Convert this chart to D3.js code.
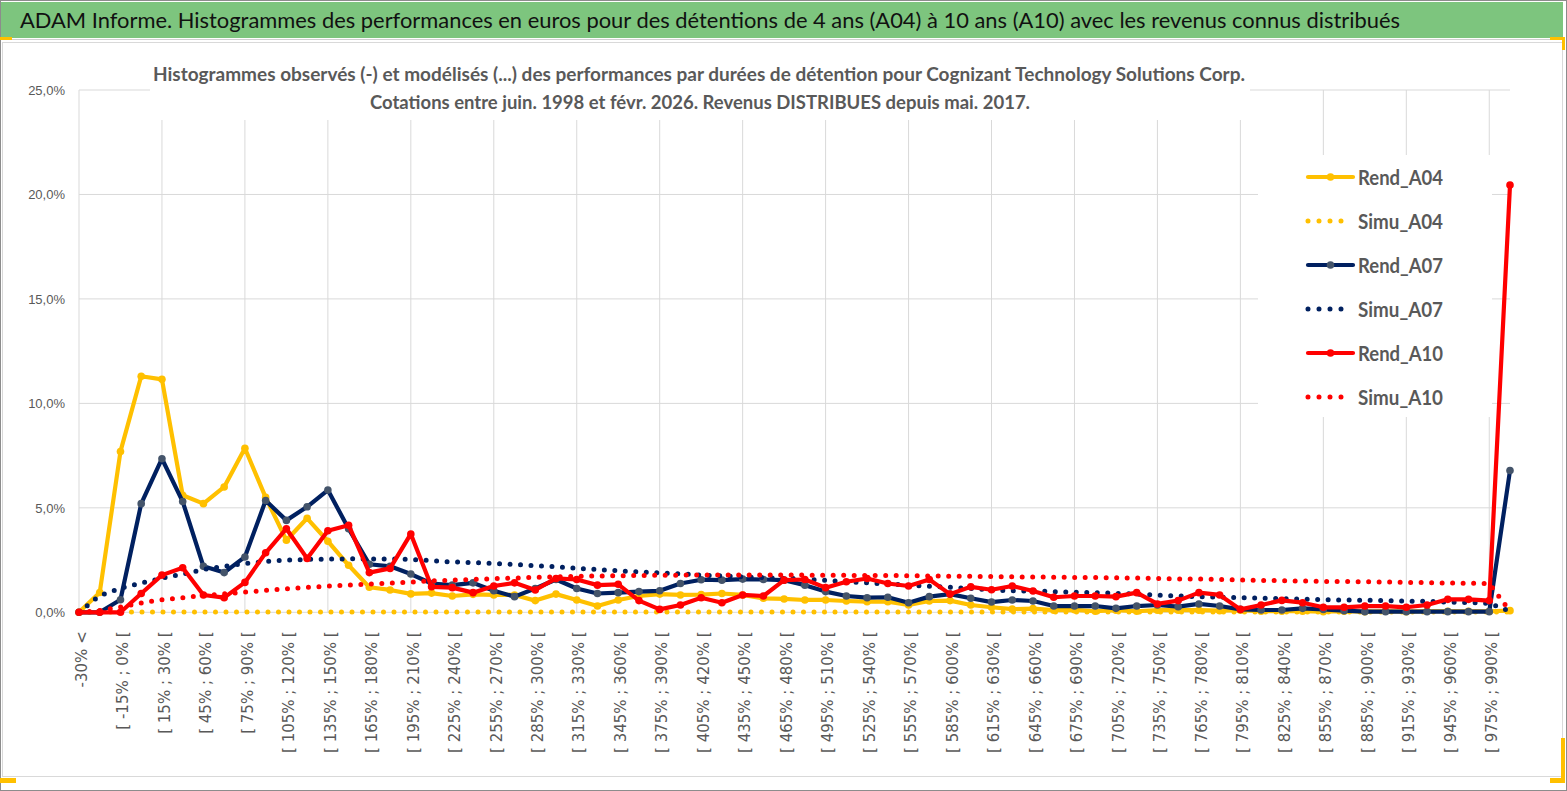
<!DOCTYPE html>
<html lang="fr">
<head>
  <meta charset="UTF-8">
  <title>ADAM Informe - Cognizant Technology Solutions Corp.</title>
  <style>
    body { margin: 0; background: #fff; }
    svg { display: block; }
  </style>
</head>
<body>
  <svg id="mainsvg" width="1567" height="791"></svg>
  <script src="https://cdn.jsdelivr.net/npm/d3@7"></script>
  <script>
    // categories (classes de performance)
    const categories = [
      '-30% <', '[ -30% ; -15% [', '[ -15% ; 0% [', '[ 0% ; 15% [', '[ 15% ; 30% [', '[ 30% ; 45% [',
      '[ 45% ; 60% [', '[ 60% ; 75% [', '[ 75% ; 90% [', '[ 90% ; 105% [', '[ 105% ; 120% [', '[ 120% ; 135% [',
      '[ 135% ; 150% [', '[ 150% ; 165% [', '[ 165% ; 180% [', '[ 180% ; 195% [', '[ 195% ; 210% [', '[ 210% ; 225% [',
      '[ 225% ; 240% [', '[ 240% ; 255% [', '[ 255% ; 270% [', '[ 270% ; 285% [', '[ 285% ; 300% [', '[ 300% ; 315% [',
      '[ 315% ; 330% [', '[ 330% ; 345% [', '[ 345% ; 360% [', '[ 360% ; 375% [', '[ 375% ; 390% [', '[ 390% ; 405% [',
      '[ 405% ; 420% [', '[ 420% ; 435% [', '[ 435% ; 450% [', '[ 450% ; 465% [', '[ 465% ; 480% [', '[ 480% ; 495% [',
      '[ 495% ; 510% [', '[ 510% ; 525% [', '[ 525% ; 540% [', '[ 540% ; 555% [', '[ 555% ; 570% [', '[ 570% ; 585% [',
      '[ 585% ; 600% [', '[ 600% ; 615% [', '[ 615% ; 630% [', '[ 630% ; 645% [', '[ 645% ; 660% [', '[ 660% ; 675% [',
      '[ 675% ; 690% [', '[ 690% ; 705% [', '[ 705% ; 720% [', '[ 720% ; 735% [', '[ 735% ; 750% [', '[ 750% ; 765% [',
      '[ 765% ; 780% [', '[ 780% ; 795% [', '[ 795% ; 810% [', '[ 810% ; 825% [', '[ 825% ; 840% [', '[ 840% ; 855% [',
      '[ 855% ; 870% [', '[ 870% ; 885% [', '[ 885% ; 900% [', '[ 900% ; 915% [', '[ 915% ; 930% [', '[ 930% ; 945% [',
      '[ 945% ; 960% [', '[ 960% ; 975% [', '[ 975% ; 990% [', '> 990%'
    ]

    // valeurs en %
    const rendA04 = [
      0, 0.95, 7.7, 11.3, 11.15, 5.6, 5.2, 6.0, 7.85, 5.5,
      3.45, 4.5, 3.4, 2.25, 1.2, 1.07, 0.88, 0.92, 0.78, 0.86,
      0.83, 0.83, 0.56, 0.87, 0.59, 0.3, 0.59, 0.78, 0.87, 0.83,
      0.85, 0.9, 0.83, 0.67, 0.64, 0.59, 0.59, 0.54, 0.51, 0.51,
      0.35, 0.54, 0.56, 0.35, 0.24, 0.15, 0.18, 0.1, 0.12, 0.05,
      0.1, 0.05, 0.1, 0.1, 0.1, 0.08, 0.1, 0.05, 0.05, 0.05,
      0.03, 0.05, 0.03, 0.05, 0.03, 0.05, 0.05, 0.05, 0.05, 0.08
    ]
    const simuA04 = [
      0, 0.01, 0.02, 0.02, 0.02, 0.02, 0.02, 0.02, 0.02, 0.02,
      0.02, 0.02, 0.02, 0.02, 0.02, 0.02, 0.02, 0.02, 0.02, 0.02,
      0.02, 0.02, 0.02, 0.02, 0.02, 0.02, 0.02, 0.02, 0.02, 0.02,
      0.02, 0.02, 0.02, 0.02, 0.02, 0.02, 0.02, 0.02, 0.02, 0.02,
      0.02, 0.02, 0.02, 0.02, 0.02, 0.02, 0.02, 0.02, 0.02, 0.02,
      0.02, 0.02, 0.02, 0.02, 0.02, 0.02, 0.02, 0.02, 0.02, 0.02,
      0.02, 0.02, 0.02, 0.02, 0.02, 0.02, 0.02, 0.02, 0.02, 0.02
    ]
    const rendA07 = [
      0, 0, 0.6, 5.2, 7.35, 5.3, 2.2, 1.9, 2.65, 5.35,
      4.4, 5.05, 5.85, 4.0, 2.3, 2.2, 1.83, 1.38, 1.3, 1.41,
      1.03, 0.75, 1.14, 1.57, 1.14, 0.9, 0.94, 0.99, 1.03, 1.38,
      1.56, 1.54, 1.59, 1.57, 1.54, 1.3, 0.99, 0.78, 0.7, 0.72,
      0.46, 0.75, 0.87, 0.67, 0.49, 0.59, 0.54, 0.3, 0.3, 0.3,
      0.19, 0.3, 0.35, 0.27, 0.4, 0.3, 0.14, 0.11, 0.11, 0.19,
      0.14, 0.08, 0.03, 0.03, 0.03, 0.03, 0.03, 0.03, 0.03, 6.79
    ]
    const simuA07 = [
      0, 0.8, 1.15, 1.4, 1.63, 1.83, 2.05, 2.2, 2.33, 2.43,
      2.5, 2.53, 2.55, 2.56, 2.55, 2.55, 2.53, 2.47, 2.41, 2.38,
      2.34, 2.29, 2.23, 2.18, 2.1, 2.05, 1.99, 1.93, 1.89, 1.84,
      1.78, 1.74, 1.7, 1.66, 1.63, 1.59, 1.53, 1.47, 1.41, 1.35,
      1.3, 1.25, 1.2, 1.14, 1.07, 1.03, 1.02, 0.99, 0.96, 0.94,
      0.91, 0.87, 0.82, 0.78, 0.75, 0.72, 0.7, 0.68, 0.65, 0.63,
      0.6, 0.59, 0.58, 0.56, 0.54, 0.52, 0.49, 0.47, 0.43, 0.05
    ]
    const rendA10 = [
      0, 0, 0, 0.9, 1.78, 2.13, 0.83, 0.7, 1.43, 2.85,
      4.0, 2.58, 3.9, 4.17, 1.9, 2.1, 3.75, 1.22, 1.18, 0.94,
      1.26, 1.41, 1.07, 1.62, 1.57, 1.3, 1.34, 0.56, 0.14, 0.35,
      0.7, 0.46, 0.83, 0.78, 1.54, 1.57, 1.18, 1.46, 1.62, 1.38,
      1.26, 1.57, 0.87, 1.22, 1.08, 1.26, 1.02, 0.72, 0.78, 0.78,
      0.75, 0.94, 0.4, 0.56, 0.94, 0.83, 0.14, 0.35, 0.57, 0.46,
      0.24, 0.24, 0.3, 0.3, 0.24, 0.35, 0.62, 0.62, 0.56, 20.45
    ]
    const simuA10 = [
      0, 0.08, 0.25, 0.45, 0.6, 0.7, 0.8, 0.88, 0.97, 1.05,
      1.13, 1.19, 1.25, 1.3, 1.35, 1.4, 1.45, 1.5, 1.54, 1.57,
      1.61, 1.64, 1.67, 1.7, 1.72, 1.74, 1.75, 1.76, 1.77, 1.78,
      1.78, 1.78, 1.78, 1.78, 1.78, 1.78, 1.77, 1.77, 1.76, 1.76,
      1.75, 1.74, 1.73, 1.72, 1.71, 1.7, 1.69, 1.68, 1.67, 1.66,
      1.65, 1.64, 1.62, 1.6, 1.59, 1.57, 1.55, 1.53, 1.51, 1.5,
      1.48, 1.47, 1.46, 1.45, 1.43, 1.42, 1.4, 1.39, 1.38, 0.05
    ]
    const yTicks = [0, 5, 10, 15, 20, 25]

    const title = 'ADAM Informe. Histogrammes des performances en euros pour des détentions de 4 ans (A04) à 10 ans (A10) avec les revenus connus distribués'
    const subtitle1 = 'Histogrammes observés (-)  et modélisés (...) des performances par durées de détention pour Cognizant Technology Solutions Corp.'
    const subtitle2 = 'Cotations entre juin. 1998 et févr. 2026. Revenus DISTRIBUES depuis mai. 2017.'

    const series = [
      { name: 'Rend_A04', values: rendA04, color: '#FFC000', marker: '#FFC000', dotted: false },
      { name: 'Simu_A04', values: simuA04, color: '#FFC000', dotted: true },
      { name: 'Rend_A07', values: rendA07, color: '#002060', marker: '#44546A', dotted: false },
      { name: 'Simu_A07', values: simuA07, color: '#002060', dotted: true },
      { name: 'Rend_A10', values: rendA10, color: '#FF0000', marker: '#FF0000', dotted: false },
      { name: 'Simu_A10', values: simuA10, color: '#FF0000', dotted: true }
    ]

    const svg = d3.select('#mainsvg')
    const width = +svg.attr('width')
    const height = +svg.attr('height')
    const calib = 'Lato, "Liberation Sans", sans-serif' // proche de Calibri

    // cadre et bandeau
    svg.append('rect').attr('x', 0.5).attr('y', 0.5).attr('width', width - 1).attr('height', height - 1)
      .attr('fill', '#fff').attr('stroke', '#8c8c8c')
    svg.append('rect').attr('x', 2.5).attr('y', 42.5).attr('width', 1560).attr('height', 734)
      .attr('fill', '#fff').attr('stroke', '#d9d9d9')
    svg.append('rect').attr('x', 1).attr('y', 2).attr('width', 1562).attr('height', 36).attr('fill', '#7dc57e')
    svg.append('line').attr('x1', 1).attr('x2', 1563).attr('y1', 39.5).attr('y2', 39.5).attr('stroke', '#d0d0d0')
    // petites marques jaunes dans les coins
    const corners = [[0, 37, 12, 3], [1550, 37, 15, 3], [1562, 37, 3, 13], [0, 778, 16, 5], [1561, 738, 4, 45], [1550, 778, 15, 5]]
    corners.forEach(c => {
      svg.append('rect').attr('x', c[0]).attr('y', c[1]).attr('width', c[2]).attr('height', c[3]).attr('fill', '#FFC000')
    })

    svg.append('text').text(title)
      .attr('x', 20).attr('y', 28)
      .attr('font-family', calib).attr('font-size', 22).attr('fill', '#111')
      .attr('textLength', 1380).attr('lengthAdjust', 'spacingAndGlyphs')

    // échelles
    const xScale = d3.scalePoint().domain(categories).range([79, 1510])
    const yScale = d3.scaleLinear().domain([0, 25]).range([612.3, 90])
    const locale = d3.formatLocale({ decimal: ',', thousands: ' ', grouping: [3], currency: ['', ' €'] })
    const fmt = v => locale.format('.1f')(v) + '%'

    const g = svg.append('g').attr('id', 'maingroup')

    // grille
    g.append('g').selectAll('line').data(yTicks).join('line')
      .attr('x1', 79).attr('x2', 1510)
      .attr('y1', d => yScale(d)).attr('y2', d => yScale(d))
      .attr('stroke', '#d9d9d9').attr('stroke-width', 1)
    g.append('g').selectAll('line').data(categories.filter((d, i) => i % 4 === 0)).join('line')
      .attr('x1', d => xScale(d)).attr('x2', d => xScale(d))
      .attr('y1', yScale(25)).attr('y2', yScale(0))
      .attr('stroke', '#d9d9d9').attr('stroke-width', 1)

    // axe Y
    const yAxis = d3.axisLeft(yScale).tickValues(yTicks).tickFormat(fmt).tickSize(0).tickPadding(14)
    const yg = g.append('g').attr('transform', 'translate(79,0)').call(yAxis)
    yg.select('.domain').remove()
    yg.selectAll('text').attr('font-family', '"Liberation Sans", Arial, sans-serif').attr('font-size', 13).attr('fill', '#595959')

    // axe X
    const xAxis = d3.axisBottom(xScale).tickValues(categories.filter((d, i) => i % 2 === 0)).tickSize(0).tickPadding(0)
    const xg = g.append('g').attr('transform', `translate(0,${yScale(0)})`).call(xAxis)
    xg.select('.domain').remove()
    xg.selectAll('text')
      .attr('font-family', '"DejaVu Sans", sans-serif').attr('font-size', 15).attr('fill', '#595959')
      .attr('text-anchor', 'end')
      .attr('transform', 'translate(2,19) rotate(-90)')
      .attr('x', 0).attr('y', 0).attr('dy', '0.35em')

    // courbes
    const line = d3.line().x((d, i) => xScale(categories[i])).y(d => yScale(d))
    series.forEach(s => {
      const p = g.append('path').datum(s.values)
        .attr('d', line).attr('fill', 'none').attr('stroke', s.color)
        .attr('stroke-linejoin', 'round')
      if (s.dotted) {
        p.attr('stroke-width', 5).attr('stroke-dasharray', '0 10.5').attr('stroke-linecap', 'round')
      } else {
        p.attr('stroke-width', 4.2).attr('stroke-linecap', 'round')
        g.append('g').selectAll('circle').data(s.values).join('circle')
          .attr('cx', (d, i) => xScale(categories[i])).attr('cy', d => yScale(d))
          .attr('r', 3.8).attr('fill', s.marker)
      }
    })

    // titre du graphique
    svg.append('rect').attr('x', 150).attr('y', 60).attr('width', 1100).attr('height', 60).attr('fill', '#fff')
    svg.append('text').text(subtitle1)
      .attr('x', 699).attr('y', 81).attr('text-anchor', 'middle')
      .attr('font-family', calib).attr('font-weight', 'bold').attr('font-size', 18).attr('fill', '#595959')
      .attr('textLength', 1092).attr('lengthAdjust', 'spacingAndGlyphs')
    svg.append('text').text(subtitle2)
      .attr('x', 700).attr('y', 109).attr('text-anchor', 'middle')
      .attr('font-family', calib).attr('font-weight', 'bold').attr('font-size', 18).attr('fill', '#595959')
      .attr('textLength', 660).attr('lengthAdjust', 'spacingAndGlyphs')

    // légende
    const legend = svg.append('g')
    legend.append('rect').attr('x', 1258).attr('y', 155).attr('width', 234).attr('height', 262).attr('fill', '#fff')
    series.forEach((s, i) => {
      const ly = 177 + i * 44
      const item = legend.append('g').attr('transform', `translate(1308,${ly})`)
      const l = item.append('line').attr('x1', 0).attr('x2', s.dotted ? 44 : 45).attr('y1', 0).attr('y2', 0)
        .attr('stroke', s.color)
      if (s.dotted) {
        l.attr('stroke-width', 5).attr('stroke-dasharray', '0 11').attr('stroke-linecap', 'round')
      } else {
        l.attr('stroke-width', 4.2).attr('stroke-linecap', 'round')
        item.append('circle').attr('cx', 22.5).attr('cy', 0).attr('r', 3.8).attr('fill', s.marker)
      }
      item.append('text').text(s.name)
        .attr('x', 50).attr('y', 7.5)
        .attr('font-family', calib).attr('font-weight', 'bold').attr('font-size', 21).attr('fill', '#595959')
        .attr('textLength', 85).attr('lengthAdjust', 'spacingAndGlyphs')
    })
  </script>
</body>
</html>
